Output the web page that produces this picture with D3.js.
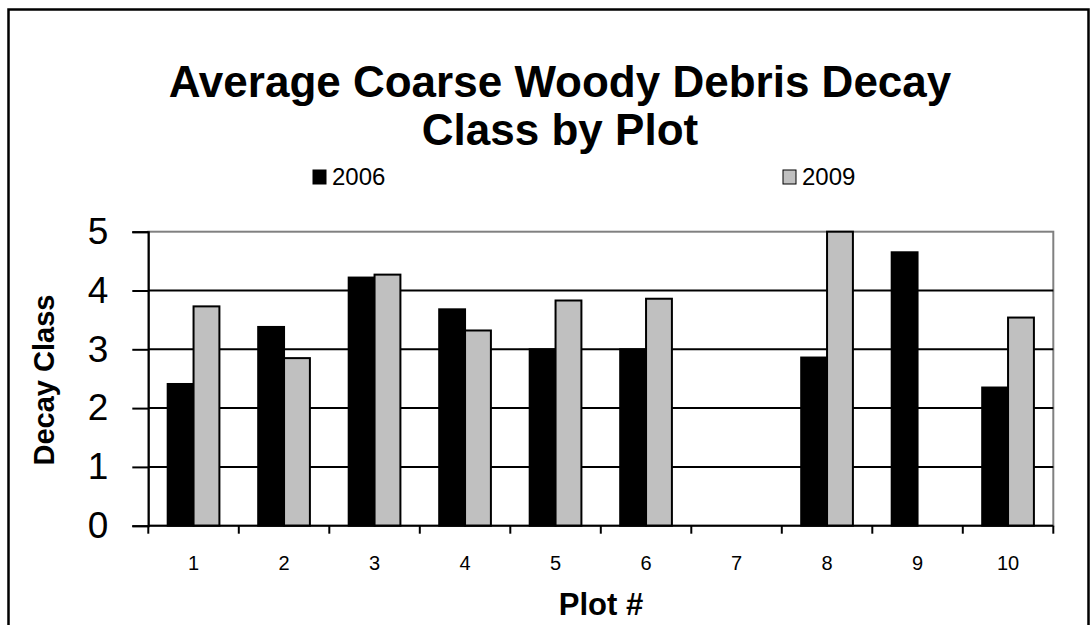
<!DOCTYPE html>
<html>
<head>
<meta charset="utf-8">
<script src="https://cdn.jsdelivr.net/npm/d3@7"></script>
<style>
  html, body { margin: 0; padding: 0; background: #fff; }
  svg text { font-family: "Liberation Sans", Arial, sans-serif; fill: #000; }
</style>
</head>
<body>
<svg id="chart" width="1091" height="625"></svg>
<script>
// Plot identifiers along the x axis
const plots = ["1", "2", "3", "4", "5", "6", "7", "8", "9", "10"];
// Average decay class per plot for each survey year (null = no debris recorded)
const decay2006 = [2.41, 3.38, 4.22, 3.68, 3.0, 3.0, null, 2.86, 4.65, 2.35];
const decay2009 = [3.73, 2.85, 4.27, 3.32, 3.83, 3.86, null, 5.0, null, 3.54];
const seriesNames = ["2006", "2009"];
const seriesColors = ["#000000", "#C0C0C0"];
const yTicks = [0, 1, 2, 3, 4, 5];

const svg = d3.select("#chart");

// Chart frame
svg.append("rect")
  .attr("x", 8.5).attr("y", 9.5)
  .attr("width", 1080).attr("height", 640)
  .attr("fill", "#fff").attr("stroke", "#000").attr("stroke-width", 2.5);

const plotLeft = 148.3, plotRight = 1053.3, plotTop = 231.7, plotBottom = 525.7;

const x0 = d3.scaleBand().domain(plots).range([plotLeft, plotRight]).padding(0);
const x1 = d3.scaleBand().domain(seriesNames).range([0, x0.bandwidth()])
  .paddingInner(0).paddingOuter(0.75);
const y = d3.scaleLinear().domain([0, 5]).range([plotBottom, plotTop]);

// Plot area border (top/right in grey)
svg.append("rect")
  .attr("x", plotLeft).attr("y", plotTop)
  .attr("width", plotRight - plotLeft).attr("height", plotBottom - plotTop)
  .attr("fill", "none").attr("stroke", "#808080").attr("stroke-width", 2);

// Horizontal gridlines
svg.append("g")
  .selectAll("line")
  .data(yTicks.filter(t => t > 0 && t < 5))
  .join("line")
  .attr("x1", plotLeft).attr("x2", plotRight)
  .attr("y1", d => y(d)).attr("y2", d => y(d))
  .attr("stroke", "#000").attr("stroke-width", 2);

// Bars
const rows = plots.map((p, i) => ({ plot: p, values: [decay2006[i], decay2009[i]] }));
const groups = svg.append("g").selectAll("g")
  .data(rows)
  .join("g")
  .attr("transform", d => `translate(${x0(d.plot)},0)`);

groups.selectAll("rect")
  .data(d => d.values.map((v, k) => ({ key: seriesNames[k], value: v, k })).filter(e => e.value != null))
  .join("rect")
  .attr("x", d => x1(d.key))
  .attr("y", d => y(d.value))
  .attr("width", x1.bandwidth())
  .attr("height", d => y(0) - y(d.value))
  .attr("fill", d => seriesColors[d.k])
  .attr("stroke", "#000").attr("stroke-width", 2);

// Y axis
const yAxis = d3.axisLeft(y).tickValues(yTicks).tickSize(16).tickPadding(24).tickFormat(d3.format("d"));
const gy = svg.append("g").attr("transform", `translate(${plotLeft},0)`).call(yAxis);
gy.select(".domain").attr("stroke", "#000").attr("stroke-width", 2);
gy.selectAll(".tick line").attr("stroke", "#000").attr("stroke-width", 2);
gy.selectAll(".tick text").attr("font-size", 37).attr("font-family", "Liberation Sans, Arial, sans-serif").attr("fill", "#000");

// X axis: ticks between categories
const gx = svg.append("g");
gx.append("line").attr("x1", plotLeft).attr("x2", plotRight).attr("y1", plotBottom).attr("y2", plotBottom)
  .attr("stroke", "#000").attr("stroke-width", 2);
const boundaries = plots.map(p => x0(p)).concat([x0(plots[plots.length - 1]) + x0.bandwidth()]);
gx.selectAll("line.tk").data(boundaries).join("line").attr("class", "tk")
  .attr("x1", d => d).attr("x2", d => d).attr("y1", plotBottom).attr("y2", plotBottom + 8)
  .attr("stroke", "#000").attr("stroke-width", 2);
gx.selectAll("text").data(plots).join("text")
  .attr("x", d => x0(d) + x0.bandwidth() / 2)
  .attr("y", 570)
  .attr("text-anchor", "middle")
  .attr("font-size", 20)
  .text(d => d);

// Axis titles
svg.append("text")
  .attr("x", 601).attr("y", 615)
  .attr("text-anchor", "middle")
  .attr("font-size", 31).attr("font-weight", "bold")
  .text("Plot #");
svg.append("text")
  .attr("transform", "translate(54,380) rotate(-90)")
  .attr("text-anchor", "middle")
  .attr("font-size", 29).attr("font-weight", "bold")
  .text("Decay Class");

// Title
const title = svg.append("text").attr("text-anchor", "middle")
  .attr("font-size", 44).attr("font-weight", "bold");
title.append("tspan").attr("x", 560).attr("y", 97).text("Average Coarse Woody Debris Decay");
title.append("tspan").attr("x", 560).attr("y", 145).text("Class by Plot");

// Legend
const legendX = [313, 783];
const legend = svg.append("g").selectAll("g").data(seriesNames).join("g")
  .attr("transform", (d, i) => `translate(${legendX[i]},170)`);
legend.append("rect").attr("x", 0).attr("y", 0).attr("width", 13).attr("height", 14)
  .attr("fill", (d, i) => seriesColors[i]).attr("stroke", "#000").attr("stroke-width", 1);
legend.append("text").attr("x", 19).attr("y", 15).attr("font-size", 24).text(d => d);
</script>
</body>
</html>
